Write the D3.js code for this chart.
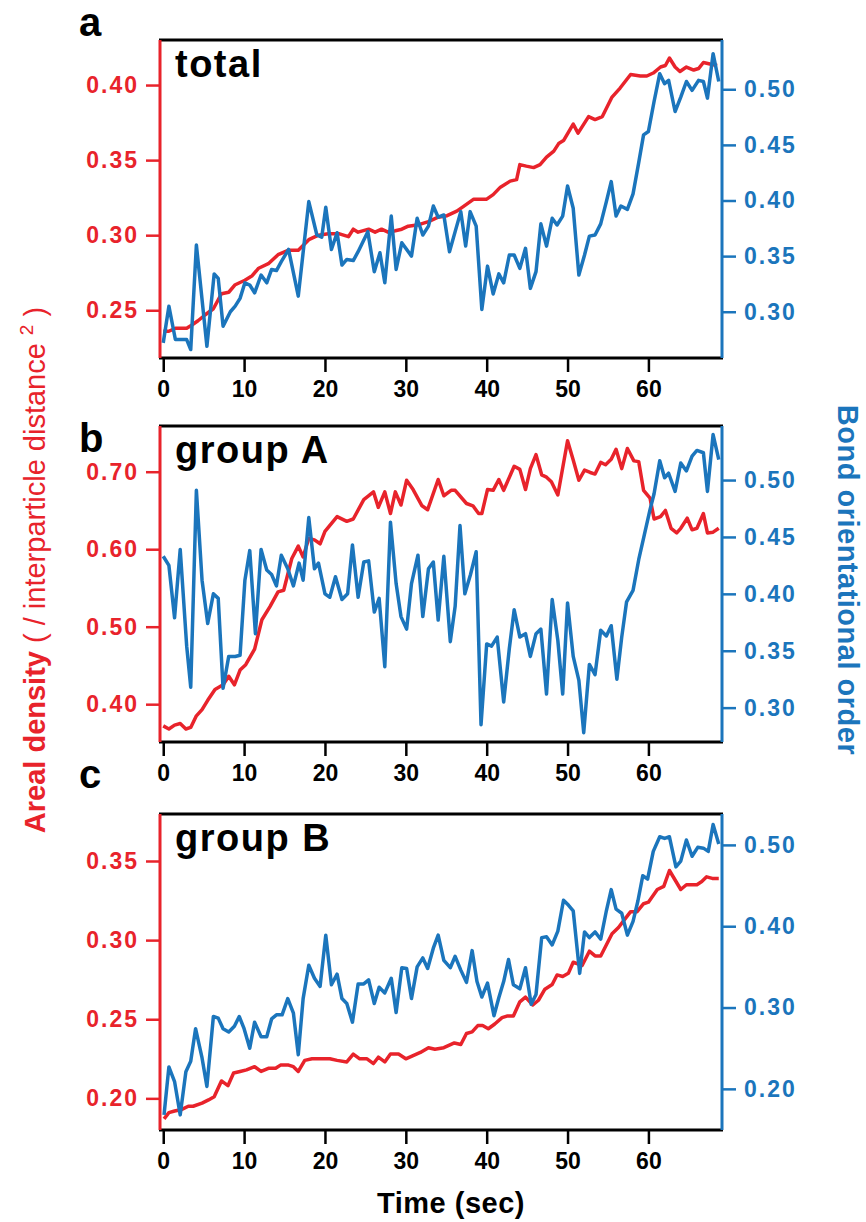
<!DOCTYPE html>
<html>
<head>
<meta charset="utf-8">
<script src="https://cdn.jsdelivr.net/npm/d3@7"></script>
<style>
  body { margin: 0; background: #fff; }
  svg text { font-family: "Liberation Sans", Arial, Helvetica, sans-serif; font-weight: bold; }
</style>
</head>
<body>
<div id="chart"></div>
<script>
// time (sec) / value pairs
const totalDensity = [[0,0.236],[0.7,0.236],[1.5,0.238],[2.2,0.238],[2.9,0.238],[3.5,0.240],[4.3,0.243],[5.2,0.247],[6.2,0.251],[7.2,0.261],[8.1,0.262],[8.9,0.267],[10.1,0.270],[11.0,0.273],[11.8,0.278],[13.0,0.281],[14.2,0.287],[15.5,0.290],[16.7,0.290],[18.0,0.297],[19.2,0.300],[20.4,0.301],[21.7,0.301],[22.9,0.299],[23.5,0.304],[24.1,0.302],[25.4,0.304],[26.2,0.302],[27.0,0.304],[27.8,0.302],[28.7,0.303],[29.5,0.304],[30.3,0.306],[31.6,0.307],[32.8,0.309],[34.0,0.312],[35.1,0.313],[36.3,0.316],[37.1,0.319],[38.4,0.324],[40.0,0.324],[40.8,0.327],[41.7,0.332],[42.9,0.336],[43.7,0.337],[44.1,0.347],[44.9,0.346],[45.8,0.345],[46.6,0.347],[47.4,0.352],[48.3,0.356],[48.9,0.361],[49.5,0.363],[50.7,0.374],[51.3,0.368],[52.6,0.379],[53.4,0.377],[54.3,0.379],[55.5,0.392],[56.5,0.398],[57.8,0.407],[59.0,0.406],[59.8,0.406],[60.6,0.408],[61.5,0.412],[62.1,0.413],[62.6,0.418],[63.3,0.412],[63.9,0.409],[64.7,0.412],[65.6,0.410],[66.2,0.411],[66.8,0.415],[67.6,0.414],[68.5,0.413]];
const totalOrder = [[0,0.272],[0.7,0.305],[1.5,0.275],[2.9,0.275],[3.4,0.266],[4.1,0.360],[5.4,0.269],[6.3,0.334],[6.8,0.330],[7.4,0.287],[8.3,0.300],[8.9,0.305],[9.5,0.312],[10.1,0.326],[10.7,0.324],[11.3,0.317],[12.1,0.333],[12.8,0.326],[13.4,0.338],[14.0,0.337],[14.6,0.345],[15.5,0.356],[16.7,0.314],[18.0,0.399],[19.0,0.369],[19.6,0.367],[20.1,0.394],[20.8,0.356],[21.5,0.371],[22.1,0.342],[22.7,0.347],[23.5,0.346],[24.1,0.354],[25.3,0.372],[26.1,0.336],[26.8,0.353],[27.4,0.326],[28.2,0.386],[28.8,0.338],[29.5,0.362],[30.7,0.350],[31.4,0.384],[32.1,0.369],[32.8,0.377],[33.4,0.395],[34.0,0.385],[34.7,0.387],[35.4,0.354],[36.1,0.372],[36.8,0.390],[37.4,0.359],[37.95,0.390],[38.7,0.377],[39.4,0.302],[40.1,0.341],[40.8,0.316],[41.5,0.334],[42.1,0.326],[42.8,0.351],[43.4,0.351],[44.1,0.339],[44.8,0.357],[45.4,0.321],[46.1,0.336],[46.7,0.379],[47.4,0.359],[48.1,0.384],[48.7,0.378],[49.4,0.386],[50.0,0.413],[50.7,0.393],[51.4,0.333],[52.1,0.351],[52.7,0.368],[53.4,0.369],[54.1,0.379],[54.8,0.399],[55.4,0.417],[56.0,0.386],[56.6,0.395],[57.4,0.392],[58.1,0.406],[58.8,0.434],[59.4,0.459],[60.0,0.462],[60.7,0.489],[61.4,0.514],[62.0,0.505],[62.5,0.508],[63.3,0.480],[64.0,0.493],[64.7,0.507],[65.4,0.499],[66.2,0.508],[66.8,0.507],[67.3,0.492],[68.0,0.532],[68.7,0.507]];

const groupADensity = [[0,0.372],[0.7,0.368],[1.4,0.373],[2.1,0.375],[2.8,0.368],[3.4,0.370],[4.1,0.385],[4.8,0.393],[5.5,0.405],[6.4,0.419],[7.4,0.425],[8.1,0.436],[8.8,0.425],[9.5,0.444],[10.2,0.451],[11.3,0.471],[12.2,0.509],[13.2,0.526],[14.2,0.545],[14.9,0.547],[15.9,0.588],[16.7,0.604],[17.3,0.590],[18.0,0.614],[18.7,0.612],[19.4,0.607],[20.0,0.623],[21.5,0.642],[22.7,0.636],[23.5,0.639],[24.8,0.664],[26.0,0.674],[26.6,0.654],[27.4,0.674],[28.1,0.646],[28.7,0.674],[29.4,0.657],[30.1,0.689],[30.9,0.677],[32.0,0.656],[32.7,0.651],[34.0,0.690],[34.7,0.669],[35.6,0.676],[36.1,0.676],[37.5,0.659],[38.3,0.656],[39.0,0.646],[39.4,0.646],[40.1,0.677],[40.8,0.676],[41.5,0.690],[42.1,0.676],[43.4,0.707],[44.1,0.703],[44.8,0.677],[45.4,0.704],[46.1,0.722],[46.8,0.696],[47.4,0.693],[48.0,0.687],[48.8,0.670],[50.0,0.740],[50.7,0.715],[51.4,0.689],[52.1,0.702],[52.8,0.699],[53.4,0.697],[54.1,0.712],[54.7,0.709],[55.4,0.716],[56.0,0.729],[56.7,0.704],[57.4,0.730],[58.2,0.714],[58.8,0.713],[59.4,0.676],[60.2,0.666],[60.7,0.639],[61.5,0.642],[62.1,0.650],[62.8,0.627],[63.5,0.621],[64.0,0.627],[64.8,0.640],[65.4,0.625],[66.0,0.627],[66.8,0.646],[67.3,0.621],[68.0,0.622],[68.7,0.627]];
const groupAOrder = [[0,0.433],[0.7,0.425],[1.4,0.379],[2.1,0.439],[2.9,0.354],[3.4,0.318],[4.1,0.491],[4.8,0.412],[5.5,0.374],[6.2,0.400],[6.8,0.396],[7.4,0.317],[8.1,0.345],[8.9,0.345],[9.5,0.346],[10.1,0.412],[10.7,0.438],[11.4,0.365],[12.1,0.439],[12.8,0.421],[13.4,0.417],[14.0,0.407],[14.6,0.434],[15.4,0.422],[16.1,0.407],[16.8,0.427],[17.3,0.412],[18.0,0.467],[18.7,0.422],[19.2,0.427],[20.0,0.400],[20.6,0.397],[21.3,0.415],[22.1,0.395],[22.8,0.400],[23.4,0.443],[24.1,0.397],[24.8,0.428],[25.4,0.429],[26.1,0.384],[26.7,0.396],[27.4,0.336],[28.1,0.463],[28.8,0.409],[29.4,0.380],[30.1,0.369],[30.7,0.409],[31.5,0.434],[32.1,0.380],[32.8,0.422],[33.4,0.428],[34.0,0.377],[34.7,0.433],[35.5,0.358],[36.1,0.389],[36.7,0.460],[37.3,0.400],[38.0,0.417],[38.7,0.437],[39.3,0.285],[40.0,0.356],[40.6,0.354],[41.3,0.362],[42.1,0.305],[42.8,0.352],[43.4,0.386],[44.1,0.362],[44.8,0.365],[45.4,0.345],[46.1,0.365],[46.7,0.369],[47.4,0.312],[48.1,0.395],[48.8,0.359],[49.4,0.312],[50.0,0.392],[50.7,0.345],[51.4,0.324],[52.0,0.278],[52.7,0.338],[53.4,0.329],[54.1,0.368],[54.8,0.363],[55.4,0.372],[56.1,0.325],[56.7,0.362],[57.3,0.393],[58.1,0.403],[58.8,0.430],[59.5,0.452],[60.2,0.474],[60.7,0.488],[61.4,0.517],[62.0,0.502],[62.5,0.506],[63.3,0.490],[64.0,0.515],[64.7,0.508],[65.4,0.521],[66.0,0.526],[66.8,0.524],[67.3,0.490],[68.0,0.540],[68.7,0.518]];

const groupBDensity = [[0.1,0.187],[0.7,0.191],[1.4,0.192],[2.3,0.193],[3.1,0.195],[3.7,0.195],[4.8,0.197],[5.6,0.199],[6.3,0.201],[7.2,0.211],[8.0,0.208],[8.7,0.216],[9.5,0.217],[10.3,0.218],[11.3,0.220],[12.1,0.217],[13.0,0.219],[13.9,0.219],[14.5,0.221],[15.5,0.221],[16.1,0.220],[16.7,0.217],[17.5,0.224],[18.4,0.225],[19.6,0.225],[20.6,0.225],[21.5,0.224],[22.7,0.223],[23.5,0.228],[24.3,0.225],[25.2,0.225],[26.0,0.222],[26.6,0.226],[27.4,0.223],[28.1,0.228],[29.1,0.228],[30.0,0.225],[30.9,0.227],[31.8,0.229],[32.8,0.232],[33.6,0.231],[34.7,0.232],[36.0,0.235],[36.8,0.234],[37.5,0.241],[38.2,0.242],[38.9,0.246],[39.5,0.246],[40.2,0.244],[41.0,0.247],[41.9,0.251],[42.5,0.252],[43.3,0.252],[44.1,0.261],[44.8,0.264],[45.7,0.259],[46.4,0.262],[47.2,0.269],[48.1,0.272],[48.7,0.278],[49.4,0.277],[50.1,0.279],[50.7,0.286],[51.8,0.284],[52.7,0.293],[53.4,0.290],[54.1,0.290],[55.5,0.304],[56.3,0.308],[56.9,0.312],[57.8,0.318],[58.6,0.318],[59.4,0.323],[60.0,0.324],[61.1,0.332],[61.9,0.334],[62.6,0.344],[63.3,0.338],[64.0,0.332],[64.7,0.335],[66.0,0.335],[66.6,0.337],[67.2,0.340],[67.9,0.339],[68.7,0.339]];
const groupBOrder = [[0.1,0.168],[0.7,0.227],[1.4,0.209],[2.1,0.168],[2.8,0.221],[3.4,0.234],[4.0,0.274],[4.8,0.238],[5.4,0.203],[6.2,0.289],[6.8,0.287],[7.4,0.274],[8.1,0.270],[8.8,0.277],[9.4,0.289],[10.0,0.274],[10.7,0.250],[11.3,0.282],[12.1,0.264],[12.8,0.264],[13.4,0.286],[14.0,0.291],[14.7,0.291],[15.4,0.311],[16.1,0.293],[16.7,0.242],[17.3,0.311],[18.0,0.352],[18.7,0.336],[19.4,0.326],[20.1,0.389],[20.8,0.328],[21.5,0.341],[22.1,0.311],[22.7,0.305],[23.4,0.282],[24.1,0.329],[24.8,0.329],[25.4,0.334],[26.1,0.305],[26.7,0.325],[27.4,0.318],[28.2,0.336],[28.8,0.294],[29.5,0.349],[30.1,0.348],[30.7,0.311],[31.4,0.350],[32.1,0.361],[32.7,0.348],[33.4,0.373],[34.0,0.389],[34.7,0.358],[35.5,0.349],[36.1,0.363],[36.8,0.346],[37.5,0.331],[38.2,0.370],[38.8,0.332],[39.4,0.313],[40.1,0.330],[40.9,0.290],[41.5,0.312],[42.1,0.332],[42.7,0.359],[43.3,0.328],[44.1,0.323],[44.8,0.349],[45.5,0.304],[46.1,0.316],[46.8,0.386],[47.4,0.387],[48.1,0.377],[48.8,0.394],[49.5,0.432],[50.1,0.426],[50.7,0.419],[51.5,0.342],[52.1,0.393],[52.7,0.386],[53.4,0.393],[54.1,0.384],[54.8,0.419],[55.4,0.445],[56.0,0.421],[56.7,0.416],[57.4,0.389],[58.1,0.406],[58.7,0.431],[59.3,0.462],[59.9,0.458],[60.6,0.492],[61.4,0.510],[62.0,0.508],[62.6,0.510],[63.4,0.473],[64.0,0.480],[64.7,0.506],[65.4,0.486],[66.1,0.497],[66.8,0.496],[67.4,0.492],[68.0,0.525],[68.7,0.501]];

// tick labels
const timeTicks = [0, 10, 20, 30, 40, 50, 60];
const densityTicksTotal = [0.25, 0.30, 0.35, 0.40];
const orderTicksTotal = [0.30, 0.35, 0.40, 0.45, 0.50];
const densityTicksA = [0.40, 0.50, 0.60, 0.70];
const orderTicksA = [0.30, 0.35, 0.40, 0.45, 0.50];
const densityTicksB = [0.20, 0.25, 0.30, 0.35];
const orderTicksB = [0.20, 0.30, 0.40, 0.50];

const red = "#e8232b", blue = "#1b75bc";
const W = 866, H = 1222;

const svg = d3.select("#chart").append("svg")
    .attr("width", W).attr("height", H)
    .style("background", "#fff");

const x = d3.scaleLinear().domain([-0.4, 69.1]).range([160, 722]);

const panels = [
    {letter: "a", letterY: 36, title: "total", top: 40, bottom: 358, dens: totalDensity, order: totalOrder,
     densDomain: [0.2182, 0.430], orderDomain: [0.2584, 0.5443], densTicks: densityTicksTotal, orderTicks: orderTicksTotal},
    {letter: "b", letterY: 452, title: "group A", top: 426, bottom: 742, dens: groupADensity, order: groupAOrder,
     densDomain: [0.3512, 0.759], orderDomain: [0.2698, 0.5475], densTicks: densityTicksA, orderTicks: orderTicksA},
    {letter: "c", letterY: 788, title: "group B", top: 814, bottom: 1130, dens: groupBDensity, order: groupBOrder,
     densDomain: [0.180, 0.3797], orderDomain: [0.1494, 0.538], densTicks: densityTicksB, orderTicks: orderTicksB}
];

function styleAxis(g, color) {
    g.select(".domain").remove();
    g.selectAll(".tick line").attr("stroke", color).attr("stroke-width", 2.5);
    g.selectAll(".tick text").attr("fill", color).style("font-size", "23px");
}

panels.forEach(function (p) {
    const yL = d3.scaleLinear().domain(p.densDomain).range([p.bottom, p.top]);
    const yR = d3.scaleLinear().domain(p.orderDomain).range([p.bottom, p.top]);

    const g = svg.append("g");

    // bottom (time) axis
    const xAxis = d3.axisBottom(x).tickValues(timeTicks).tickSize(14).tickPadding(9).tickSizeOuter(0);
    g.append("g").attr("transform", "translate(0," + p.bottom + ")").call(xAxis)
        .call(a => styleAxis(a, "#000"));

    const lAxis = d3.axisLeft(yL).tickValues(p.densTicks).tickSize(14).tickPadding(7)
        .tickFormat(d3.format(".2f"));
    g.append("g").attr("transform", "translate(160,0)").call(lAxis)
        .call(a => styleAxis(a, red))
        .selectAll(".tick text").style("letter-spacing", "2px");

    const rAxis = d3.axisRight(yR).tickValues(p.orderTicks).tickSize(14).tickPadding(8)
        .tickFormat(d3.format(".2f"));
    g.append("g").attr("transform", "translate(722,0)").call(rAxis)
        .call(a => styleAxis(a, blue))
        .selectAll(".tick text").style("letter-spacing", "2px");

    // data lines
    const lineL = d3.line().x(d => x(d[0])).y(d => yL(d[1]));
    const lineR = d3.line().x(d => x(d[0])).y(d => yR(d[1]));
    g.append("path").datum(p.dens).attr("d", lineL)
        .attr("fill", "none").attr("stroke", red).attr("stroke-width", 3.5).attr("stroke-linejoin", "round");
    g.append("path").datum(p.order).attr("d", lineR)
        .attr("fill", "none").attr("stroke", blue).attr("stroke-width", 3.5).attr("stroke-linejoin", "round");

    // frame
    g.append("line").attr("x1", 159).attr("x2", 723).attr("y1", p.top).attr("y2", p.top)
        .attr("stroke", "#000").attr("stroke-width", 3);
    g.append("line").attr("x1", 159).attr("x2", 723).attr("y1", p.bottom).attr("y2", p.bottom)
        .attr("stroke", "#000").attr("stroke-width", 3);
    g.append("line").attr("x1", 160).attr("x2", 160).attr("y1", p.top).attr("y2", p.bottom)
        .attr("stroke", red).attr("stroke-width", 3);
    g.append("line").attr("x1", 722).attr("x2", 722).attr("y1", p.top).attr("y2", p.bottom)
        .attr("stroke", blue).attr("stroke-width", 3);

    g.append("text").attr("x", 175).attr("y", p.top + 37).text(p.title)
        .style("font-size", "38px").style("letter-spacing", "1.5px");
    g.append("text").attr("x", 79).attr("y", p.letterY).text(p.letter)
        .style("font-size", "40px");
});

svg.append("text").attr("x", 451).attr("y", 1213).attr("text-anchor", "middle")
    .style("font-size", "29px").style("letter-spacing", "0.5px").text("Time (sec)");

const leftLabel = svg.append("text").attr("transform", "translate(45,570) rotate(-90)")
    .attr("text-anchor", "middle").attr("fill", red).style("font-size", "29px");
leftLabel.append("tspan").text("Areal density");
leftLabel.append("tspan").style("font-weight", "normal").text(" ( / interparticle distance ");
leftLabel.append("tspan").style("font-weight", "normal").style("font-size", "19px").attr("dy", -12).text("2");
leftLabel.append("tspan").style("font-weight", "normal").attr("dy", 12).text(" )");

svg.append("text").attr("transform", "translate(838,580) rotate(90)")
    .attr("text-anchor", "middle").attr("fill", blue)
    .style("font-size", "29px").style("letter-spacing", "0.5px")
    .text("Bond orientational order");
</script>
</body>
</html>
